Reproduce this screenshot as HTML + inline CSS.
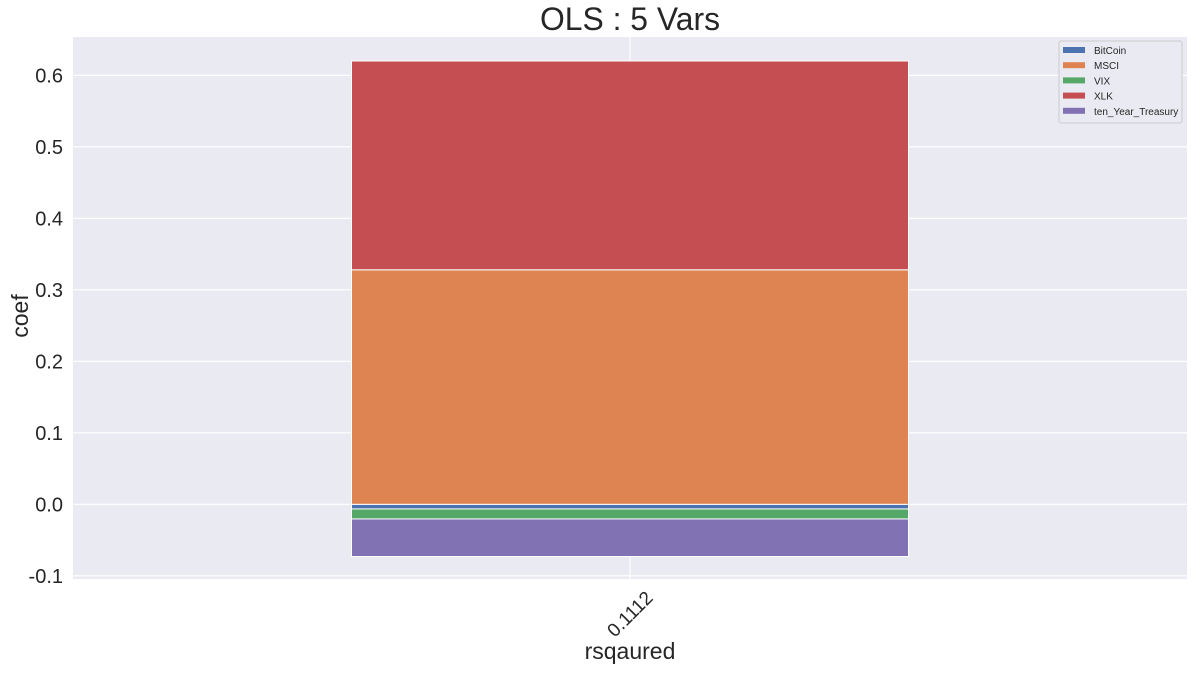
<!DOCTYPE html>
<html><head><meta charset="utf-8"><style>
body{margin:0;background:#fff;font-family:"Liberation Sans","DejaVu Sans",sans-serif;}
svg text{fill:#262626;}
</style></head><body>
<svg width="1201" height="671">
<g id="root"></g>
</svg>
<script>
const categories=["0.1112"];
const seriesNames=["BitCoin","MSCI","VIX","XLK","ten_Year_Treasury"];
const seriesColors=["#4c72b0","#dd8452","#55a868","#c44e52","#8172b3"];
const seriesValues=[[-0.0065],[0.328],[-0.014],[0.292],[-0.0525]];
const yTicks=[-0.1,0.0,0.1,0.2,0.3,0.4,0.5,0.6];
const yTickLabels=["-0.1","0.0","0.1","0.2","0.3","0.4","0.5","0.6"];

const NS="http://www.w3.org/2000/svg";
const root=document.getElementById('root');
const L=73,R=1187,T=37,B=579;
const y=v=>504.3-v*715;
const xc=i=>L+(R-L)*(i+0.5)/categories.length;
function mk(tag,attrs,parent){const e=document.createElementNS(NS,tag);for(const k in attrs)e.setAttribute(k,attrs[k]);(parent||root).appendChild(e);return e;}

const bg=mk('rect',{x:L,y:T,width:R-L,height:B-T,fill:'#eaeaf2'});


yTicks.forEach((t,i)=>{
  const g=mk('line',{x1:L,x2:R,y1:y(t),y2:y(t),stroke:'#fff','stroke-width':1.2});
  
  
  const tx=mk('text',{x:L-10,y:y(t)+7,'text-anchor':'end','font-size':20});
  tx.textContent=yTickLabels[i];
  
  
});
categories.forEach((c,i)=>{
  const gl=mk('line',{x1:xc(i),x2:xc(i),y1:T,y2:B,stroke:'#fff','stroke-width':1.2});
  
  
  const bw=(R-L)*0.5/categories.length;
  let pos=0,neg=0;
  seriesValues.forEach((vals,s)=>{
    const v=vals[i];let y0,y1;
    if(v>=0){y0=pos;y1=pos+v;pos=y1;}else{y0=neg;y1=neg+v;neg=y1;}
    const r=mk('rect',{x:xc(i)-bw/2,width:bw,y:Math.min(y(y0),y(y1)),height:Math.abs(y(y0)-y(y1)),fill:seriesColors[s],stroke:'#fff','stroke-width':1});
    
    
  });
  const tl=mk('text',{x:0,y:0,'text-anchor':'end','font-size':19,transform:`translate(${xc(i)+24},${B+20}) rotate(-45)`});
  tl.textContent=c;
  
  
});
const title=mk('text',{x:630,y:30,'text-anchor':'middle','font-size':32,'textLength':180,'lengthAdjust':'spacingAndGlyphs'});
title.textContent="OLS : 5 Vars";


const xl=mk('text',{x:630,y:659,'text-anchor':'middle','font-size':23});
xl.textContent="rsqaured";


const yl=mk('text',{x:0,y:0,'text-anchor':'middle','font-size':23,transform:'translate(28,316) rotate(-90)'});
yl.textContent="coef";



const lg=mk('g',{});


mk('rect',{x:1059,y:41,width:123,height:82,fill:'#eaeaf2',stroke:'#ccc','stroke-width':1,rx:2},lg);
seriesNames.forEach((n,s)=>{
  const yy=50+s*15.2;
  const sw=mk('rect',{x:1063,y:yy-3,width:22,height:6,fill:seriesColors[s]},lg);
  
  
  const t=mk('text',{x:1094,y:yy+4,'font-size':10},lg);
  t.textContent=n;
  
  
});
</script>
</body></html>
